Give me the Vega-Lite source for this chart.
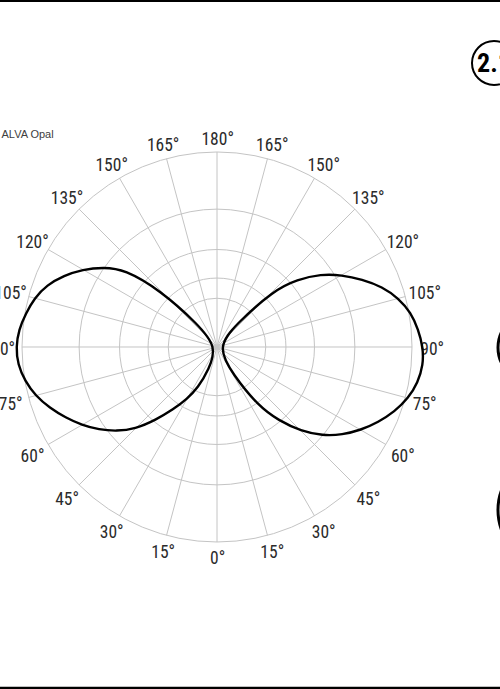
{
  "$schema": "https://vega.github.io/schema/vega-lite/v6.json",
  "width": 500,
  "height": 689,
  "autosize": {"type": "none"},
  "padding": 0,
  "background": "white",
  "config": {"view": {"stroke": null}},
  "title": {
    "text": "ALVA Opal",
    "anchor": "start",
    "frame": "group",
    "orient": "top",
    "offset": -149,
    "baseline": "alphabetic",
    "font": "Liberation Sans",
    "fontSize": 11,
    "fontWeight": "normal",
    "color": "#404040",
    "dx": 1.5
  },
  "datasets": {
    "photometry": [
      {"lobe": "C0", "a": 0, "I": 0},
      {"lobe": "C0", "a": 30, "I": 43},
      {"lobe": "C0", "a": 35, "I": 218},
      {"lobe": "C0", "a": 40, "I": 388},
      {"lobe": "C0", "a": 45, "I": 596},
      {"lobe": "C0", "a": 50, "I": 801},
      {"lobe": "C0", "a": 55, "I": 985},
      {"lobe": "C0", "a": 60, "I": 1160},
      {"lobe": "C0", "a": 65, "I": 1333},
      {"lobe": "C0", "a": 70, "I": 1503},
      {"lobe": "C0", "a": 75, "I": 1650},
      {"lobe": "C0", "a": 80, "I": 1751},
      {"lobe": "C0", "a": 85, "I": 1803},
      {"lobe": "C0", "a": 90, "I": 1786},
      {"lobe": "C0", "a": 95, "I": 1717},
      {"lobe": "C0", "a": 100, "I": 1633},
      {"lobe": "C0", "a": 105, "I": 1487},
      {"lobe": "C0", "a": 110, "I": 1303},
      {"lobe": "C0", "a": 115, "I": 1077},
      {"lobe": "C0", "a": 120, "I": 873},
      {"lobe": "C0", "a": 125, "I": 679},
      {"lobe": "C0", "a": 130, "I": 464},
      {"lobe": "C0", "a": 135, "I": 269},
      {"lobe": "C0", "a": 140, "I": 38},
      {"lobe": "C180", "a": 0, "I": 0},
      {"lobe": "C180", "a": -20, "I": 24},
      {"lobe": "C180", "a": -25, "I": 85},
      {"lobe": "C180", "a": -30, "I": 152},
      {"lobe": "C180", "a": -35, "I": 243},
      {"lobe": "C180", "a": -40, "I": 380},
      {"lobe": "C180", "a": -45, "I": 566},
      {"lobe": "C180", "a": -50, "I": 722},
      {"lobe": "C180", "a": -55, "I": 873},
      {"lobe": "C180", "a": -60, "I": 1024},
      {"lobe": "C180", "a": -65, "I": 1174},
      {"lobe": "C180", "a": -70, "I": 1333},
      {"lobe": "C180", "a": -75, "I": 1487},
      {"lobe": "C180", "a": -80, "I": 1600},
      {"lobe": "C180", "a": -85, "I": 1683},
      {"lobe": "C180", "a": -90, "I": 1700},
      {"lobe": "C180", "a": -95, "I": 1666},
      {"lobe": "C180", "a": -100, "I": 1584},
      {"lobe": "C180", "a": -105, "I": 1503},
      {"lobe": "C180", "a": -110, "I": 1379},
      {"lobe": "C180", "a": -115, "I": 1202},
      {"lobe": "C180", "a": -120, "I": 1011},
      {"lobe": "C180", "a": -125, "I": 813},
      {"lobe": "C180", "a": -130, "I": 616},
      {"lobe": "C180", "a": -135, "I": 269},
      {"lobe": "C180", "a": -140, "I": 38}
    ],
    "grid_circles": [
      {"I": 100}, {"I": 200}, {"I": 400}, {"I": 800}, {"I": 1600}
    ],
    "angles": [
      {"a": 0, "label": "0°"},
      {"a": 15, "label": "15°"}, {"a": -15, "label": "15°"},
      {"a": 30, "label": "30°"}, {"a": -30, "label": "30°"},
      {"a": 45, "label": "45°"}, {"a": -45, "label": "45°"},
      {"a": 60, "label": "60°"}, {"a": -60, "label": "60°"},
      {"a": 75, "label": "75°"}, {"a": -75, "label": "75°"},
      {"a": 90, "label": "90°"}, {"a": -90, "label": "90°"},
      {"a": 105, "label": "105°"}, {"a": -105, "label": "105°"},
      {"a": 120, "label": "120°"}, {"a": -120, "label": "120°"},
      {"a": 135, "label": "135°"}, {"a": -135, "label": "135°"},
      {"a": 150, "label": "150°"}, {"a": -150, "label": "150°"},
      {"a": 165, "label": "165°"}, {"a": -165, "label": "165°"},
      {"a": 180, "label": "180°"}
    ]
  },
  "layer": [
    {
      "data": {"name": "grid_circles"},
      "mark": {"type": "arc", "theta": 0, "theta2": 6.2832, "filled": false, "stroke": "#c4c4c4", "strokeWidth": 1},
      "encoding": {
        "x": {"datum": 0, "type": "quantitative", "scale": {"domain": [-44.513, 58.051], "nice": false, "zero": false}, "axis": null},
        "y": {"datum": 0, "type": "quantitative", "scale": {"domain": [-70.154, 71.179], "nice": false, "zero": false}, "axis": null},
        "radius": {"field": "I", "type": "quantitative", "stack": false, "scale": {"type": "sqrt", "domain": [0, 1600], "range": [0, 195], "nice": false}}
      }
    },
    {
      "data": {"name": "angles"},
      "transform": [
        {"calculate": "40*sin(datum.a*PI/180)", "as": "gx"},
        {"calculate": "-40*cos(datum.a*PI/180)", "as": "gy"}
      ],
      "mark": {"type": "rule", "stroke": "#c4c4c4", "strokeWidth": 1},
      "encoding": {
        "x": {"field": "gx", "type": "quantitative", "scale": {"domain": [-44.513, 58.051], "nice": false, "zero": false}, "axis": null},
        "y": {"field": "gy", "type": "quantitative", "scale": {"domain": [-70.154, 71.179], "nice": false, "zero": false}, "axis": null},
        "x2": {"datum": 0},
        "y2": {"datum": 0}
      }
    },
    {
      "data": {"name": "angles"},
      "transform": [
        {"calculate": "(209.5 + 5*abs(sin(datum.a*PI/180)))/4.875", "as": "lr"},
        {"calculate": "datum.lr*sin(datum.a*PI/180)", "as": "lx"},
        {"calculate": "-datum.lr*cos(datum.a*PI/180)", "as": "ly"}
      ],
      "mark": {"type": "text", "font": "Liberation Sans Narrow, Noto Sans Condensed, Roboto Condensed, Open Sans Condensed, DejaVu Sans Condensed, sans-serif", "fontSize": 17.5, "align": "center", "baseline": "middle", "dx": 0.7, "dy": 2.6, "fill": "#2b2b2b"},
      "encoding": {
        "x": {"field": "lx", "type": "quantitative", "scale": {"domain": [-44.513, 58.051], "nice": false, "zero": false}, "axis": null},
        "y": {"field": "ly", "type": "quantitative", "scale": {"domain": [-70.154, 71.179], "nice": false, "zero": false}, "axis": null},
        "text": {"field": "label"}
      }
    },
    {
      "data": {"name": "photometry"},
      "transform": [
        {"calculate": "sqrt(datum.I)*sin(datum.a*PI/180)", "as": "px"},
        {"calculate": "-sqrt(datum.I)*cos(datum.a*PI/180)", "as": "py"}
      ],
      "mark": {"type": "line", "interpolate": "basis-closed", "stroke": "#000000", "strokeWidth": 2.4},
      "encoding": {
        "x": {"field": "px", "type": "quantitative", "scale": {"domain": [-44.513, 58.051], "nice": false, "zero": false}, "axis": null},
        "y": {"field": "py", "type": "quantitative", "scale": {"domain": [-70.154, 71.179], "nice": false, "zero": false}, "axis": null},
        "detail": {"field": "lobe"},
        "order": {"field": "a", "type": "quantitative"}
      }
    },
    {
      "data": {"values": [{}]},
      "mark": {"type": "rule", "stroke": "#000000", "strokeWidth": 2.2},
      "encoding": {
        "y": {"datum": 70.97, "type": "quantitative", "scale": {"domain": [-70.154, 71.179], "nice": false, "zero": false}, "axis": null}
      }
    },
    {
      "data": {"values": [{}]},
      "mark": {"type": "rule", "stroke": "#000000", "strokeWidth": 2.5},
      "encoding": {
        "y": {"datum": -69.95, "type": "quantitative", "scale": {"domain": [-70.154, 71.179], "nice": false, "zero": false}, "axis": null}
      }
    },
    {
      "data": {"values": [{}]},
      "mark": {"type": "point", "shape": "circle", "filled": false, "size": 1936, "stroke": "#000000", "strokeWidth": 2, "opacity": 1},
      "encoding": {
        "x": {"datum": 56.82, "type": "quantitative", "scale": {"domain": [-44.513, 58.051], "nice": false, "zero": false}, "axis": null},
        "y": {"datum": 58.26, "type": "quantitative", "scale": {"domain": [-70.154, 71.179], "nice": false, "zero": false}, "axis": null}
      }
    },
    {
      "data": {"values": [{}]},
      "mark": {"type": "text", "text": "2.1", "font": "Liberation Sans Narrow, Noto Sans Condensed, Roboto Condensed, Open Sans Condensed, DejaVu Sans Condensed, sans-serif", "fontSize": 26, "fontWeight": "bold", "align": "center", "baseline": "middle", "dy": 1, "fill": "#000000"},
      "encoding": {
        "x": {"datum": 56.82, "type": "quantitative", "scale": {"domain": [-44.513, 58.051], "nice": false, "zero": false}, "axis": null},
        "y": {"datum": 58.26, "type": "quantitative", "scale": {"domain": [-70.154, 71.179], "nice": false, "zero": false}, "axis": null}
      }
    },
    {
      "data": {"values": [{}]},
      "mark": {"type": "point", "shape": "circle", "filled": false, "size": 4900, "stroke": "#000000", "strokeWidth": 3, "opacity": 1},
      "encoding": {
        "x": {"datum": 64.82, "type": "quantitative", "scale": {"domain": [-44.513, 58.051], "nice": false, "zero": false}, "axis": null},
        "y": {"datum": -0.1, "type": "quantitative", "scale": {"domain": [-70.154, 71.179], "nice": false, "zero": false}, "axis": null}
      }
    },
    {
      "data": {"values": [{}]},
      "mark": {"type": "point", "shape": "circle", "filled": false, "size": 12100, "stroke": "#000000", "strokeWidth": 3, "opacity": 1},
      "encoding": {
        "x": {"datum": 68.92, "type": "quantitative", "scale": {"domain": [-44.513, 58.051], "nice": false, "zero": false}, "axis": null},
        "y": {"datum": -33.44, "type": "quantitative", "scale": {"domain": [-70.154, 71.179], "nice": false, "zero": false}, "axis": null}
      }
    }
  ]
}
